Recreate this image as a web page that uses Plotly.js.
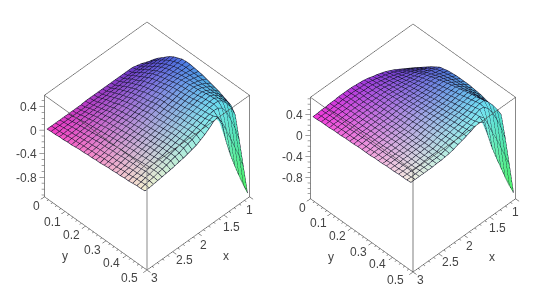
<!DOCTYPE html>
<html><head><meta charset="utf-8"><script src="https://cdn.plot.ly/plotly-3.0.1.min.js"></script>
<style>html,body{margin:0;padding:0;background:#fff}</style></head><body><div id="c" style="width:545px;height:301px"></div>
<script>
const xs=[1,1.083,1.167,1.25,1.333,1.417,1.5,1.583,1.667,1.75,1.833,1.917,2,2.083,2.167,2.25,2.333,2.417,2.5,2.583,2.667,2.75,2.833,2.917,3];
const ys=[.012,.032,.052,.072,.092,.112,.131,.151,.171,.191,.211,.231,.251,.271,.291,.311,.331,.351,.37,.39,.41,.43,.45,.47,.49];
const zL=[
[-.05,-.02,.01,.03,.05,.05,.05,.05,.05,.05,.05,.05,.05,.05,.05,.05,.04,.04,.04,.04,.04,.04,.04,.04,.04],
[.03,.05,.06,.07,.07,.07,.07,.07,.07,.06,.06,.06,.06,.06,.06,.06,.05,.05,.05,.05,.05,.05,.05,.05,.05],
[.10,.11,.12,.12,.12,.12,.12,.11,.11,.10,.10,.10,.09,.09,.08,.08,.08,.07,.07,.07,.06,.06,.06,.05,.05],
[.16,.17,.17,.17,.17,.17,.16,.16,.15,.14,.14,.13,.12,.12,.11,.10,.10,.09,.09,.08,.08,.07,.07,.06,.06],
[.22,.22,.22,.21,.21,.21,.20,.19,.19,.18,.17,.16,.15,.14,.13,.12,.12,.11,.10,.10,.09,.08,.07,.07,.06],
[.28,.27,.26,.26,.25,.25,.24,.23,.22,.21,.20,.19,.18,.16,.15,.14,.14,.13,.12,.11,.10,.09,.08,.08,.07],
[.32,.31,.30,.30,.29,.29,.28,.27,.25,.24,.23,.21,.20,.19,.18,.17,.15,.14,.13,.12,.11,.10,.09,.08,.07],
[.35,.34,.33,.33,.32,.32,.31,.29,.28,.26,.25,.24,.22,.21,.19,.18,.17,.16,.14,.13,.12,.11,.10,.09,.08],
[.38,.37,.36,.36,.35,.34,.33,.32,.30,.29,.27,.26,.24,.23,.21,.20,.18,.17,.16,.14,.13,.12,.11,.10,.09],
[.39,.38,.38,.37,.37,.36,.35,.34,.32,.31,.29,.27,.26,.24,.22,.21,.19,.18,.17,.15,.14,.13,.11,.10,.09],
[.39,.39,.39,.39,.39,.38,.37,.36,.34,.32,.30,.29,.27,.25,.23,.22,.21,.19,.18,.16,.15,.14,.12,.11,.10],
[.38,.39,.40,.41,.41,.40,.39,.38,.36,.34,.32,.30,.28,.27,.25,.23,.22,.20,.19,.17,.15,.14,.13,.11,.10],
[.37,.39,.41,.42,.43,.42,.41,.39,.37,.36,.34,.32,.30,.28,.26,.24,.23,.21,.19,.18,.16,.15,.13,.12,.11],
[.36,.39,.41,.43,.44,.43,.42,.40,.38,.37,.35,.33,.31,.29,.27,.25,.23,.22,.20,.19,.17,.16,.14,.13,.11],
[.34,.38,.41,.43,.45,.44,.43,.41,.39,.37,.35,.33,.31,.29,.27,.26,.24,.23,.21,.19,.18,.16,.15,.13,.12],
[.32,.37,.41,.44,.46,.45,.44,.42,.40,.38,.36,.34,.32,.30,.28,.27,.25,.23,.22,.20,.18,.17,.15,.14,.13],
[.30,.36,.41,.45,.47,.46,.45,.43,.41,.39,.37,.35,.33,.31,.29,.27,.26,.24,.22,.21,.19,.18,.16,.14,.13],
[.28,.35,.41,.45,.48,.47,.46,.44,.42,.40,.38,.36,.34,.32,.30,.28,.26,.25,.23,.21,.19,.18,.16,.15,.14],
[.25,.34,.41,.46,.50,.49,.48,.46,.44,.42,.40,.37,.35,.33,.31,.29,.27,.26,.24,.22,.20,.19,.17,.16,.14],
[.22,.33,.41,.47,.51,.50,.49,.47,.45,.43,.40,.38,.36,.34,.32,.30,.28,.26,.24,.23,.21,.19,.18,.16,.15],
[.19,.31,.40,.47,.52,.51,.50,.48,.46,.44,.41,.39,.37,.35,.33,.31,.29,.27,.25,.23,.22,.20,.18,.17,.15],
[.08,.26,.38,.47,.52,.52,.51,.49,.47,.45,.42,.40,.37,.35,.33,.31,.29,.27,.26,.24,.22,.21,.19,.18,.16],
[-.3,-.05,.15,.33,.45,.50,.51,.50,.48,.45,.43,.40,.38,.36,.34,.32,.30,.28,.26,.24,.23,.21,.20,.18,.17],
[-.7,-.47,-.27,-.07,.12,.31,.45,.52,.50,.46,.43,.41,.38,.36,.34,.31,.30,.28,.26,.24,.23,.21,.20,.19,.17],
[-1.1,-.9,-.7,-.48,-.25,.03,.38,.55,.52,.46,.41,.37,.33,.31,.29,.27,.26,.24,.23,.22,.21,.20,.19,.18,.18]];
const zR=[
[-.07,-.02,.03,.08,.13,.18,.22,.26,.29,.32,.34,.37,.39,.40,.41,.42,.42,.42,.42,.41,.41,.40,.40,.39,.39],
[-.01,.04,.08,.13,.17,.21,.25,.28,.31,.33,.36,.38,.40,.41,.41,.42,.42,.42,.42,.41,.41,.40,.40,.40,.39],
[.05,.09,.13,.17,.21,.24,.27,.30,.33,.35,.37,.39,.41,.42,.42,.43,.43,.43,.43,.42,.42,.41,.41,.40,.40],
[.11,.14,.18,.21,.25,.28,.30,.33,.35,.37,.39,.40,.42,.42,.43,.43,.43,.43,.43,.42,.42,.42,.41,.41,.40],
[.17,.20,.23,.26,.29,.31,.33,.35,.37,.39,.40,.42,.43,.43,.43,.43,.43,.43,.43,.43,.42,.42,.41,.41,.40],
[.22,.25,.27,.30,.33,.34,.36,.37,.39,.40,.42,.43,.44,.44,.44,.44,.44,.44,.43,.43,.42,.42,.42,.41,.41],
[.27,.29,.32,.34,.37,.38,.38,.40,.41,.42,.43,.44,.45,.45,.45,.44,.44,.44,.44,.43,.43,.43,.42,.42,.41],
[.29,.32,.34,.37,.40,.41,.41,.42,.43,.44,.44,.45,.46,.46,.45,.45,.44,.44,.44,.43,.43,.43,.42,.42,.41],
[.31,.34,.37,.40,.43,.43,.44,.44,.44,.45,.45,.46,.47,.46,.46,.45,.44,.44,.44,.44,.43,.43,.43,.42,.42],
[.32,.36,.39,.43,.46,.46,.46,.46,.46,.46,.47,.47,.47,.47,.46,.46,.45,.45,.44,.44,.43,.43,.43,.42,.42],
[.33,.37,.41,.45,.48,.48,.48,.47,.47,.47,.48,.48,.48,.48,.47,.46,.45,.45,.45,.44,.44,.44,.43,.43,.42],
[.33,.38,.43,.47,.51,.50,.50,.49,.49,.49,.49,.49,.49,.48,.47,.46,.45,.45,.45,.45,.44,.44,.44,.43,.43],
[.33,.38,.44,.49,.53,.52,.52,.51,.50,.50,.50,.50,.50,.49,.48,.47,.46,.46,.45,.45,.44,.44,.44,.43,.43],
[.33,.39,.45,.50,.55,.54,.54,.53,.52,.52,.51,.51,.51,.50,.49,.47,.46,.46,.45,.45,.44,.44,.44,.43,.43],
[.32,.39,.46,.52,.57,.56,.55,.54,.53,.53,.52,.52,.52,.50,.49,.48,.46,.46,.46,.45,.45,.44,.44,.44,.43],
[.31,.39,.47,.53,.59,.58,.57,.55,.54,.54,.53,.53,.52,.51,.50,.48,.47,.47,.46,.46,.45,.45,.44,.44,.44],
[.30,.39,.47,.55,.61,.60,.59,.57,.56,.55,.54,.54,.53,.52,.50,.49,.47,.47,.46,.46,.45,.45,.44,.44,.44],
[.28,.38,.47,.56,.63,.62,.60,.59,.57,.56,.55,.55,.54,.52,.51,.49,.47,.47,.47,.46,.45,.45,.45,.44,.44],
[.26,.37,.47,.57,.65,.64,.62,.60,.58,.57,.56,.55,.54,.53,.51,.49,.47,.47,.47,.46,.46,.46,.45,.45,.45],
[.24,.36,.47,.57,.66,.66,.64,.62,.60,.59,.57,.56,.55,.53,.52,.50,.48,.48,.47,.47,.46,.46,.45,.45,.45],
[.23,.36,.48,.59,.68,.68,.66,.63,.61,.60,.58,.57,.55,.54,.52,.50,.48,.48,.47,.47,.46,.46,.46,.45,.45],
[.20,.36,.50,.61,.70,.70,.68,.65,.62,.61,.59,.58,.56,.54,.53,.50,.48,.48,.47,.47,.46,.46,.46,.46,.46],
[-.2,.06,.28,.46,.60,.69,.70,.67,.63,.62,.60,.58,.56,.55,.53,.51,.48,.48,.48,.47,.46,.46,.46,.46,.46],
[-.65,-.42,-.2,.02,.2,.42,.6,.68,.65,.63,.61,.59,.57,.55,.53,.51,.49,.48,.48,.47,.47,.47,.46,.46,.46],
[-1.12,-.92,-.7,-.46,-.23,.02,.32,.62,.68,.66,.63,.60,.57,.55,.52,.50,.49,.48,.48,.47,.47,.47,.47,.47,.47]];
const zrL=[-1.13,.59],zrR=[-1.2,.73];
const yTicks=[0,.1,.2,.3,.4,.5],xTicks=[1,1.5,2,2.5,3],zTicks=[.4,0,-.4,-.8];
const xShifts=[[0,-13],[8,-11],[6,-11],[12,-8],[8,-8]];
const yShifts=[[-7,-9],[-12,-10],[-13,-8],[-13,-9],[-14,-7],[-17,-8]];
function panel(zz,zr,name,cx,cy,frontColor){
 const X=[],Y=[],Z=[],C=[],I=[],J=[],K=[],nx=xs.length,ny=ys.length;
 const hex=v=>Math.round(255*Math.min(1,v));
 ys.forEach((y,j)=>xs.forEach((x,i)=>{const z=zz[j][i];X.push(x);Y.push(y);Z.push(z);
  const r=(x-1)/2,g=y/.5,b=(z-zr[0])/(zr[1]-zr[0]);
  C.push(`rgb(${hex(.3+.66*r)},${hex(.2+.76*g)},${hex(.36+.6*b)})`);}));
 for(let j=0;j<ny-1;j++)for(let i=0;i<nx-1;i++){const a=j*nx+i,b=a+1,c=a+nx,d=c+1;I.push(a,b);J.push(b,d);K.push(c,c);}
 const hid={hoverinfo:'skip',showlegend:false};
 const traces=[{type:'mesh3d',scene:name,x:X,y:Y,z:Z,i:I,j:J,k:K,vertexcolor:C,flatshading:false,hoverinfo:'skip',
  lighting:{ambient:1,diffuse:0,specular:0,roughness:1,fresnel:0},showscale:false}];
 const lx=[],ly=[],lz=[],e=.006;
 for(let j=0;j<ny;j++){for(let i=0;i<nx;i++){lx.push(xs[i]);ly.push(ys[j]);lz.push(zz[j][i]+e);}lx.push(null);ly.push(null);lz.push(null);}
 for(let i=0;i<nx;i++){for(let j=0;j<ny;j++){lx.push(xs[i]);ly.push(ys[j]);lz.push(zz[j][i]+e);}lx.push(null);ly.push(null);lz.push(null);}
 traces.push({type:'scatter3d',mode:'lines',scene:name,x:lx,y:ly,z:lz,line:{color:'#14142a',width:1.1},...hid});
 const [a,b]=zr;
 const bx=[],by=[],bz=[];
 const seg=s=>{bx.push(s[0],s[3],null);by.push(s[1],s[4],null);bz.push(s[2],s[5],null);};
 [[3,0,b,1,0,b],[1,0,b,1,.5,b],[1,.5,b,3,.5,b],[3,.5,b,3,0,b],[3,0,a,3,.5,a],[3,.5,a,1,.5,a]].forEach(seg);
 for(let v=0;v<=.5001;v+=.02){const m=Math.abs(v*10-Math.round(v*10))<1e-6;seg([3,v,a,m?3.07:3.035,v,a]);}
 for(let v=1;v<=3.001;v+=.1){const m=Math.abs(v*2-Math.round(v*2))<1e-6;seg([v,.5,a,v,m?.5175:.509,a]);}
 for(let v=-1.1;v<=zr[1];v+=.1){const m=Math.abs(v/.4-Math.round(v/.4))<1e-6;const f=m?1:.55;seg([3,0,v,3+.05*f,-.0125*f,v]);}
 traces.push({type:'scatter3d',mode:'lines',scene:name,x:bx,y:by,z:bz,line:{color:'#444',width:1},...hid});
 traces.push({type:'scatter3d',mode:'lines',scene:name,x:[3,3,null,1,1],y:[0,0,null,.5,.5],z:[a,b,null,a,b],line:{color:'#888',width:2},...hid});
 traces.push({type:'scatter3d',mode:'lines',scene:name,x:[3,3],y:[.5,.5],z:[a,b],line:{color:frontColor,width:frontColor=='#000'?1:2},...hid});
 const anns=[];
 const font={family:'Liberation Sans, Arial',size:12,color:'#444'};
 yTicks.forEach((v,k)=>anns.push({x:3,y:v,z:a,text:String(v),showarrow:false,xshift:yShifts[k][0],yshift:yShifts[k][1],font}));
 xTicks.forEach((v,k)=>anns.push({x:v,y:.5,z:a,text:String(v),showarrow:false,xshift:xShifts[k][0],yshift:xShifts[k][1],font}));
 zTicks.forEach(v=>anns.push({x:3,y:0,z:v,text:String(v),showarrow:false,xanchor:'right',xshift:-5,font}));
 anns.push({x:3,y:.25,z:a,text:'y',showarrow:false,xshift:-30,yshift:-22,font});
 anns.push({x:2,y:.5,z:a,text:'x',showarrow:false,xshift:28,yshift:-22,font});
 const ax=(r)=>({range:r,visible:false,showspikes:false});
 const d=(zr[1]-zr[0])*.05,W=130,H=145;
 const scene={domain:{x:[(cx-W)/545,(cx+W)/545],y:[1-(cy+H)/301,1-(cy-H)/301]},
  xaxis:ax([.9,3.1]),yaxis:ax([-.025,.525]),zaxis:ax([zr[0]-d,zr[1]+d]),
  aspectmode:'manual',aspectratio:{x:1.1,y:1.1,z:1.1},annotations:anns,
  camera:{eye:{x:.89,y:.89,z:1.285},center:{x:0,y:0,z:0},up:{x:0,y:0,z:1},projection:{type:'orthographic'}}};
 return {traces,scene};
}
const L=panel(zL,zrL,'scene',146.5,146.5,'#888');
const R=panel(zR,zrR,'scene2',412.5,148,'#000');
Plotly.newPlot('c',L.traces.concat(R.traces),{width:545,height:301,margin:{l:0,r:0,t:0,b:0},paper_bgcolor:'#fff',showlegend:false,scene:L.scene,scene2:R.scene},{displayModeBar:false});
</script></body></html>
